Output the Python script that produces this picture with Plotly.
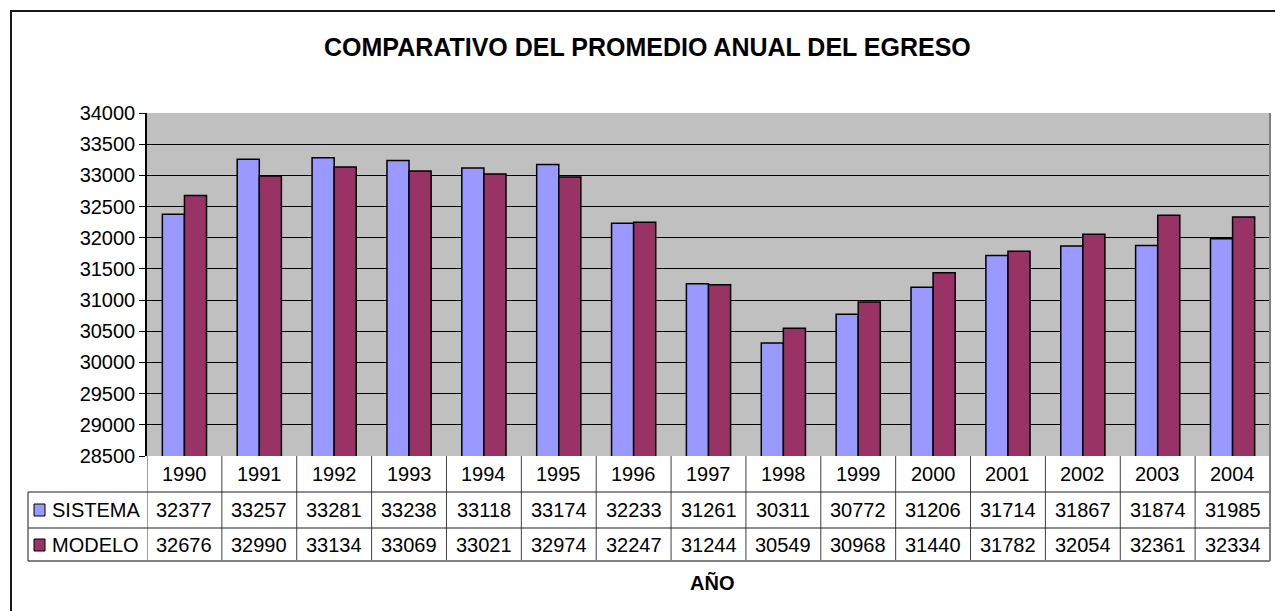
import plotly.graph_objects as go

# Datos del comparativo anual
anios = ["1990", "1991", "1992", "1993", "1994", "1995", "1996", "1997",
         "1998", "1999", "2000", "2001", "2002", "2003", "2004"]
sistema = [32377, 33257, 33281, 33238, 33118, 33174, 32233, 31261,
           30311, 30772, 31206, 31714, 31867, 31874, 31985]
modelo = [32676, 32990, 33134, 33069, 33021, 32974, 32247, 31244,
          30549, 30968, 31440, 31782, 32054, 32361, 32334]
series = [("SISTEMA", sistema, "#9999FF"), ("MODELO", modelo, "#993366")]

W, H = 1275, 611
L, R, T, B = 147, 1270, 113, 456          # plot area in pixels
FONT = "Liberation Sans, Arial, sans-serif"


def px(x):
    return (x - L) / (R - L)


def py(y):
    return (B - y) / (B - T)


fig = go.Figure()
for name, vals, color in series:
    fig.add_trace(go.Bar(
        x=anios, y=vals, name=name,
        marker=dict(color=color, line=dict(color="black", width=1.5)),
        showlegend=False,
    ))

shapes = []
annotations = []

# Outer chart frame
shapes.append(dict(type="rect", xref="paper", yref="paper",
                   x0=px(11), x1=px(1300), y0=py(11), y1=py(700),
                   line=dict(color="#1a1a1a", width=2), layer="above"))
# Plot area border (right side in grey)
shapes.append(dict(type="line", xref="paper", yref="paper",
                   x0=1, x1=1, y0=0, y1=1,
                   line=dict(color="#808080", width=2)))

# Data table grid
n = len(anios)
for i in range(n + 1):
    shapes.append(dict(type="line", xref="x", yref="paper",
                       x0=i - 0.5, x1=i - 0.5, y0=py(456), y1=py(561),
                       line=dict(color="#404040", width=1)))
for yy in (492, 528):
    shapes.append(dict(type="line", xref="paper", yref="paper",
                       x0=px(28), x1=1, y0=py(yy), y1=py(yy),
                       line=dict(color="#202020", width=1.2)))
shapes.append(dict(type="line", xref="paper", yref="paper",
                   x0=px(28), x1=1, y0=py(561), y1=py(561),
                   line=dict(color="#808080", width=2)))
shapes.append(dict(type="line", xref="paper", yref="paper",
                   x0=px(28), x1=px(28), y0=py(492), y1=py(561),
                   line=dict(color="#404040", width=1.2)))
shapes.append(dict(type="line", xref="paper", yref="paper",
                   x0=1, x1=1, y0=py(456), y1=py(561),
                   line=dict(color="#808080", width=2)))

cell_font = dict(family=FONT, size=20, color="black")

# Header row with the years (positioned by category index)
for i, a in enumerate(anios):
    annotations.append(dict(x=i, y=py(474), xref="x", yref="paper",
                            text=a, showarrow=False, font=cell_font,
                            xanchor="center", yanchor="middle"))

# Series rows: legend key, name and values
for (name, vals, color), ymid in zip(series, (510, 545)):
    shapes.append(dict(type="rect", xref="paper", yref="paper",
                       x0=px(34), x1=px(45), y0=py(ymid - 6), y1=py(ymid + 6),
                       fillcolor=color, line=dict(color="black", width=1)))
    annotations.append(dict(x=px(50), y=py(ymid), xref="paper", yref="paper",
                            text=name, showarrow=False, font=cell_font,
                            xanchor="left", yanchor="middle"))
    for i, v in enumerate(vals):
        annotations.append(dict(x=i, y=py(ymid), xref="x", yref="paper",
                                text=str(v), showarrow=False, font=cell_font,
                                xanchor="center", yanchor="middle"))

# Title and axis title
annotations.append(dict(x=px(647), y=py(47), xref="paper", yref="paper",
                        text="COMPARATIVO DEL PROMEDIO ANUAL DEL EGRESO",
                        showarrow=False, xanchor="center", yanchor="middle",
                        font=dict(family=FONT, size=25, color="black", weight="bold")))
annotations.append(dict(x=px(712), y=py(583), xref="paper", yref="paper",
                        text="AÑO", showarrow=False, xanchor="center", yanchor="middle",
                        font=dict(family=FONT, size=20, color="black", weight="bold")))

fig.update_layout(
    width=W, height=H,
    margin=dict(l=L, r=W - R, t=T, b=H - B, pad=0),
    paper_bgcolor="white", plot_bgcolor="#C0C0C0",
    barmode="group", bargap=0.41, bargroupgap=0,
    shapes=shapes, annotations=annotations,
    xaxis=dict(type="category", showticklabels=False, showgrid=False,
               zeroline=False, showline=False, ticks="",
               range=[-0.5, n - 0.5]),
    yaxis=dict(range=[28500, 34000], dtick=500, tick0=28500,
               tickformat="d",
               showgrid=True, gridcolor="black", gridwidth=1,
               showline=True, linecolor="black", linewidth=1.5,
               ticks="outside", ticklen=6, tickcolor="black", tickwidth=1,
               zeroline=False,
               tickfont=dict(family=FONT, size=20, color="black")),
)

fig.write_html("out.html")
